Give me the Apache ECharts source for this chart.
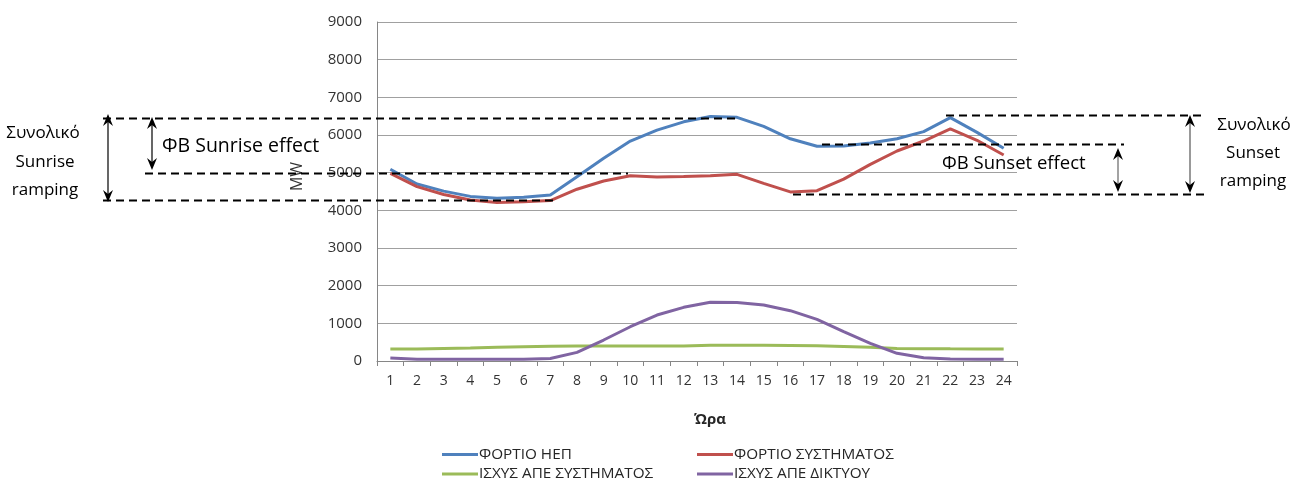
<!DOCTYPE html>
<html>
<head>
<meta charset="utf-8">
<script src="https://cdn.jsdelivr.net/npm/echarts@6/dist/echarts.min.js"></script>
<style>
html,body{margin:0;padding:0;background:#fff;}
#chart{width:1307px;height:493px;}
</style>
</head>
<body>
<div id="chart"></div>
<script>
// ---- data ----
var hours = ['1','2','3','4','5','6','7','8','9','10','11','12','13','14','15','16','17','18','19','20','21','22','23','24'];
var fortioHEP = [5090, 4700, 4510, 4370, 4320, 4350, 4410, 4890, 5380, 5840, 6130, 6350, 6490, 6470, 6230, 5900, 5700, 5710, 5790, 5900, 6090, 6460, 6070, 5650];
var fortioSys = [4980, 4630, 4420, 4275, 4210, 4230, 4260, 4560, 4780, 4920, 4885, 4895, 4920, 4955, 4715, 4490, 4520, 4830, 5220, 5575, 5840, 6160, 5860, 5470];
var isxysApeSys = [320, 320, 335, 345, 365, 380, 390, 395, 398, 398, 400, 400, 415, 415, 415, 410, 405, 385, 363, 335, 327, 322, 320, 318];
var isxysApeDikt = [80, 45, 45, 45, 45, 45, 65, 230, 557, 910, 1220, 1425, 1558, 1550, 1487, 1336, 1107, 778, 470, 204, 88, 53, 45, 45];
var seriesNames = ['ΦΟΡΤΙΟ ΗΕΠ', 'ΦΟΡΤΙΟ ΣΥΣΤΗΜΑΤΟΣ', 'ΙΣΧΥΣ ΑΠΕ ΣΥΣΤΗΜΑΤΟΣ', 'ΙΣΧΥΣ ΑΠΕ ΔΙΚΤΥΟΥ'];
var seriesColors = ['#4F81BD', '#C0504D', '#9BBB59', '#8064A2'];
var yTicks = {min: 0, max: 9000, interval: 1000};
// annotation levels (MW)
var sunriseLevels = [6450, 5000, 4270];
var sunsetLevels = [6530, 5760, 4430];

var FONT = 'Open Sans';
var chart = echarts.init(document.getElementById('chart'));

function mkSeries(i, data) {
  return {
    name: seriesNames[i], type: 'line', data: data,
    showSymbol: false, symbol: 'none',
    lineStyle: {color: seriesColors[i], width: 3},
    itemStyle: {color: seriesColors[i]},
    z: 3 + i
  };
}
function mkLegend(i, left, top) {
  return {
    data: [seriesNames[i]], left: left, top: top, padding: 0,
    icon: 'rect', itemWidth: 36, itemHeight: 3, itemGap: 0,
    textStyle: {fontFamily: FONT, fontSize: 15.3, color: '#262626', padding: [0,0,0,-4]},
    selectedMode: false
  };
}

var option = {
  animation: false,
  backgroundColor: '#fff',
  grid: {left: 377, right: 290, top: 22, bottom: 132},
  legend: [
    mkLegend(0, 442, 447),
    mkLegend(1, 697, 447),
    mkLegend(2, 442, 466.5),
    mkLegend(3, 697, 466.5)
  ],
  xAxis: {
    type: 'category', data: hours, boundaryGap: true,
    name: 'Ώρα', nameLocation: 'middle', nameGap: 51,
    nameTextStyle: {fontFamily: FONT, fontSize: 15, fontWeight: 'bold', color: '#262626', padding: [0,0,0,26]},
    axisLine: {lineStyle: {color: '#868686', width: 1}},
    axisTick: {show: true, length: 5, interval: 0, lineStyle: {color: '#868686'}},
    axisLabel: {fontFamily: FONT, fontSize: 14, color: '#333', margin: 13, interval: 0},
    splitLine: {show: false}
  },
  yAxis: {
    type: 'value', min: yTicks.min, max: yTicks.max, interval: yTicks.interval,
    name: 'MW', nameLocation: 'middle', nameGap: 72, nameRotate: 90,
    nameTextStyle: {fontFamily: FONT, fontSize: 16, color: '#333', padding: [0,0,0,30]},
    axisLine: {show: true, lineStyle: {color: '#868686', width: 1}},
    axisTick: {show: false},
    axisLabel: {fontFamily: FONT, fontSize: 15, color: '#333', margin: 15,
      formatter: function (v) { return String(v); }},
    splitLine: {lineStyle: {color: '#a0a0a0', width: 1}}
  },
  series: [
    mkSeries(0, fortioHEP),
    mkSeries(1, fortioSys),
    mkSeries(2, isxysApeSys),
    mkSeries(3, isxysApeDikt)
  ]
};
chart.setOption(option);

function yPix(v) { return chart.convertToPixel({yAxisIndex: 0}, v); }

function dashed(x1, x2, v) {
  var y = Math.round(yPix(v)) + 0.5;
  return {type: 'line', z: 50, shape: {x1: x1, y1: y, x2: x2, y2: y},
    style: {stroke: '#000', lineWidth: 2, lineDash: [8, 5]}};
}
function arrow(x, yTop, yBot, lineColor) {
  var w = 5, h = 12, n = 4;
  var els = [];
  els.push({type: 'line', z: 50, shape: {x1: x, y1: yTop + 4, x2: x, y2: yBot - 4},
    style: {stroke: lineColor, lineWidth: 1.2}});
  els.push({type: 'polygon', z: 51, shape: {points: [[x, yTop], [x + w, yTop + h], [x, yTop + h - n], [x - w, yTop + h]]},
    style: {fill: '#000'}});
  els.push({type: 'polygon', z: 51, shape: {points: [[x, yBot], [x + w, yBot - h], [x, yBot - h + n], [x - w, yBot - h]]},
    style: {fill: '#000'}});
  return els;
}
function txt(s, x, y, align, size) {
  return {type: 'text', z: 60, x: x, y: y,
    style: {text: s, fontFamily: FONT, fontSize: size || 17, fill: '#000', align: align || 'center', verticalAlign: 'middle'}};
}

var g = [];
g.push(dashed(103, 740, sunriseLevels[0]));
g.push(dashed(145, 628, sunriseLevels[1]));
g.push(dashed(103, 558, sunriseLevels[2]));
g.push(dashed(946, 1202, sunsetLevels[0]));
g.push(dashed(822, 1124, sunsetLevels[1]));
g.push(dashed(793, 1205, sunsetLevels[2]));
g = g.concat(arrow(108, 114, 202, '#000'));
g = g.concat(arrow(152, 117, 170, '#000'));
g = g.concat(arrow(1118, 148, 192, '#666'));
g = g.concat(arrow(1190, 115, 193, '#555'));
g.push(txt('Συνολικό', 43, 133));
g.push(txt('Sunrise', 45, 162));
g.push(txt('ramping', 45, 190));
g.push(txt('ΦΒ Sunrise effect', 162, 146, 'left', 19.5));
g.push(txt('ΦΒ Sunset effect', 942, 164, 'left', 18.5));
g.push(txt('Συνολικό', 1254, 125));
g.push(txt('Sunset', 1253, 153));
g.push(txt('ramping', 1253, 181));

chart.setOption({graphic: {elements: g}});
</script>
</body>
</html>
